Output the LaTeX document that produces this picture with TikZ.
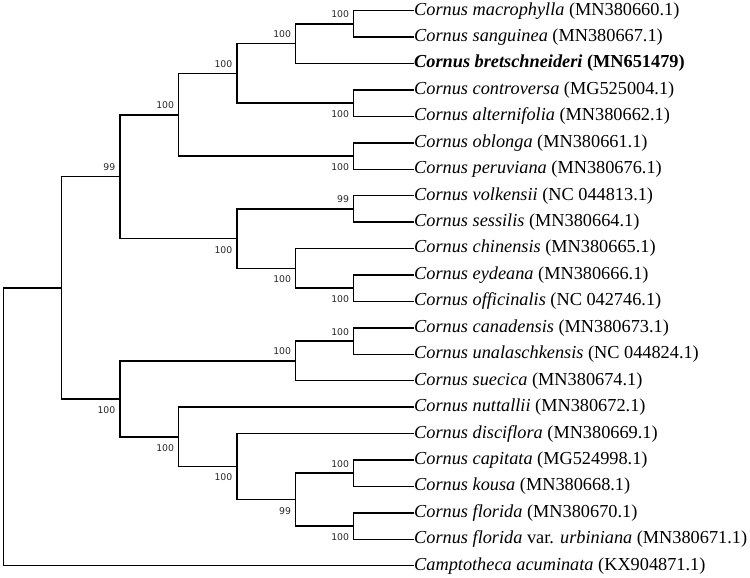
\documentclass[tikz,border=0pt]{standalone}
\usepackage{fontspec}
\setmainfont{Liberation Serif}
\newfontfamily\bootfamily{DejaVu Sans}
\begin{document}
\begin{tikzpicture}[x=1pt,y=-1pt,
  branch/.style={line width=1.5pt,line cap=rect},
  boot/.style={font=\bootfamily\fontsize{9.3}{10}\selectfont, inner sep=0pt, anchor=east, text=black!85},
  leaf/.style={anchor=west, inner sep=1pt, font=\fontsize{18.3}{20}\selectfont}]
\useasboundingbox (0,0) rectangle (750,578);
% leaves
\node[leaf] (l1) at (413,10.7) {\textit{Cornus macrophylla} (MN380660.1)};
\node[leaf] (l2) at (413,37.13) {\textit{Cornus sanguinea} (MN380667.1)};
\node[leaf] (l3) at (413,63.56) {\textbf{\textit{Cornus bretschneideri} (MN651479)}};
\node[leaf] (l4) at (413,89.99) {\textit{Cornus controversa} (MG525004.1)};
\node[leaf] (l5) at (413,116.42) {\textit{Cornus alternifolia} (MN380662.1)};
\node[leaf] (l6) at (413,142.85) {\textit{Cornus oblonga} (MN380661.1)};
\node[leaf] (l7) at (413,169.28) {\textit{Cornus peruviana} (MN380676.1)};
\node[leaf] (l8) at (413,195.71) {\textit{Cornus volkensii} (NC 044813.1)};
\node[leaf] (l9) at (413,222.14) {\textit{Cornus sessilis} (MN380664.1)};
\node[leaf] (l10) at (413,248.57) {\textit{Cornus chinensis} (MN380665.1)};
\node[leaf] (l11) at (413,275.0) {\textit{Cornus eydeana} (MN380666.1)};
\node[leaf] (l12) at (413,301.43) {\textit{Cornus officinalis} (NC 042746.1)};
\node[leaf] (l13) at (413,327.86) {\textit{Cornus canadensis} (MN380673.1)};
\node[leaf] (l14) at (413,354.29) {\textit{Cornus unalaschkensis} (NC 044824.1)};
\node[leaf] (l15) at (413,380.72) {\textit{Cornus suecica} (MN380674.1)};
\node[leaf] (l16) at (413,407.15) {\textit{Cornus nuttallii} (MN380672.1)};
\node[leaf] (l17) at (413,433.58) {\textit{Cornus disciflora} (MN380669.1)};
\node[leaf] (l18) at (413,460.01) {\textit{Cornus capitata} (MG524998.1)};
\node[leaf] (l19) at (413,486.44) {\textit{Cornus kousa} (MN380668.1)};
\node[leaf] (l20) at (413,512.87) {\textit{Cornus florida} (MN380670.1)};
\node[leaf] (l21) at (413,539.30) {\textit{Cornus florida} var. \textit{urbiniana} (MN380671.1)};
\node[leaf] (l22) at (413,565.73) {\textit{Camptotheca acuminata} (KX904871.1)};
% internal nodes
\coordinate (F) at (353.7,23.9);
\coordinate (E) at (295.7,43.7);
\coordinate (H) at (353.7,103.2);
\coordinate (D) at (237,73.5);
\coordinate (I) at (353.7,156.1);
\coordinate (C) at (178.7,114.8);
\coordinate (J) at (353.7,208.9);
\coordinate (L) at (353.7,288.2);
\coordinate (K) at (295.7,268.4);
\coordinate (M) at (237,238.7);
\coordinate (B) at (120,176.7);
\coordinate (N) at (353.7,341.1);
\coordinate (O) at (295.7,360.9);
\coordinate (T) at (353.7,473.2);
\coordinate (U) at (353.7,526.1);
\coordinate (S) at (295.7,499.7);
\coordinate (R) at (237,466.6);
\coordinate (Q) at (178.7,436.9);
\coordinate (P) at (120,398.8);
\coordinate (A) at (61.3,287.8);
\coordinate (Z) at (3.3,426.8);
% branches
\begin{scope}[branch]
\draw (F) |- (l1.west); \draw (F) |- (l2.west);
\draw (E) |- (F); \draw (E) |- (l3.west);
\draw (H) |- (l4.west); \draw (H) |- (l5.west);
\draw (D) |- (E); \draw (D) |- (H);
\draw (I) |- (l6.west); \draw (I) |- (l7.west);
\draw (C) |- (D); \draw (C) |- (I);
\draw (J) |- (l8.west); \draw (J) |- (l9.west);
\draw (L) |- (l11.west); \draw (L) |- (l12.west);
\draw (K) |- (l10.west); \draw (K) |- (L);
\draw (M) |- (J); \draw (M) |- (K);
\draw (B) |- (C); \draw (B) |- (M);
\draw (N) |- (l13.west); \draw (N) |- (l14.west);
\draw (O) |- (N); \draw (O) |- (l15.west);
\draw (T) |- (l18.west); \draw (T) |- (l19.west);
\draw (U) |- (l20.west); \draw (U) |- (l21.west);
\draw (S) |- (T); \draw (S) |- (U);
\draw (R) |- (l17.west); \draw (R) |- (S);
\draw (Q) |- (l16.west); \draw (Q) |- (R);
\draw (P) |- (O); \draw (P) |- (Q);
\draw (A) |- (B); \draw (A) |- (P);
\draw (Z) |- (A); \draw (Z) |- (l22.west);
\end{scope}
% bootstrap values
\node[boot] (bF) at ([shift={(-4.5,-9.3)}]F) {100};
\node[boot] (bE) at ([shift={(-4.5,-9.3)}]E) {100};
\node[boot] (bH) at ([shift={(-4.5,11)}]H) {100};
\node[boot] (bD) at ([shift={(-4.5,-9.3)}]D) {100};
\node[boot] (bI) at ([shift={(-4.5,11)}]I) {100};
\node[boot] (bC) at ([shift={(-4.5,-9.3)}]C) {100};
\node[boot] (bJ) at ([shift={(-4.5,-9.3)}]J) {99};
\node[boot] (bL) at ([shift={(-4.5,11)}]L) {100};
\node[boot] (bK) at ([shift={(-4.5,11)}]K) {100};
\node[boot] (bM) at ([shift={(-4.5,11)}]M) {100};
\node[boot] (bB) at ([shift={(-4.5,-9.3)}]B) {99};
\node[boot] (bN) at ([shift={(-4.5,-9.3)}]N) {100};
\node[boot] (bO) at ([shift={(-4.5,-9.3)}]O) {100};
\node[boot] (bT) at ([shift={(-4.5,-9.3)}]T) {100};
\node[boot] (bU) at ([shift={(-4.5,11)}]U) {100};
\node[boot] (bS) at ([shift={(-4.5,11)}]S) {99};
\node[boot] (bR) at ([shift={(-4.5,11)}]R) {100};
\node[boot] (bQ) at ([shift={(-4.5,11)}]Q) {100};
\node[boot] (bP) at ([shift={(-4.5,11)}]P) {100};
\end{tikzpicture}
\end{document}
